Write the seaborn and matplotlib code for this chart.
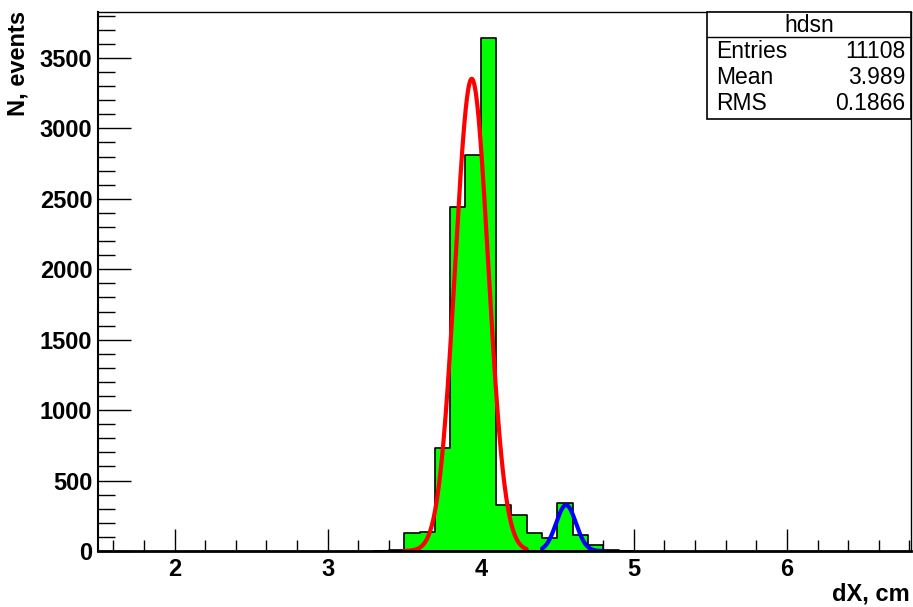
import numpy as np
import pandas as pd
import matplotlib
matplotlib.use("Agg")
import matplotlib.pyplot as plt
import seaborn as sns
from matplotlib.patches import Rectangle

# ---- data ----
bin_edges = [3.3, 3.4, 3.5, 3.6, 3.7, 3.8, 3.9, 4.0, 4.1, 4.2, 4.3, 4.4, 4.5, 4.6, 4.7, 4.8, 4.9, 5.0]
bin_counts = [2, 4, 125, 132, 733, 2444, 2808, 3643, 329, 256, 130, 90, 338, 113, 43, 7, 3]

# Gaussian fit parameters: amplitude, mean, sigma, range
red_fit = dict(amp=3352, mean=3.941, sigma=0.108, xmin=3.5, xmax=4.3)
blue_fit = dict(amp=326, mean=4.557, sigma=0.065, xmin=4.4, xmax=4.8)

stats_title = "hdsn"
stats_names = ["Entries", "Mean", "RMS"]
stats_values = ["11108", "3.989", "0.1866"]

x_ticks = [2, 3, 4, 5, 6]
y_ticks = [0, 500, 1000, 1500, 2000, 2500, 3000, 3500]

sns.set_theme(style="white")
plt.rcParams['font.family'] = ['Liberation Sans', 'DejaVu Sans']
plt.rcParams['text.color'] = 'black'
plt.rcParams['xtick.color'] = 'black'
plt.rcParams['ytick.color'] = 'black'

fig = plt.figure(figsize=(9.13, 6.07), dpi=100)
W, H = 913, 607
ax = fig.add_axes([98 / W, 1 - 551 / H, (911 - 98) / W, (551 - 12) / H])

centers = [(a + b) / 2 for a, b in zip(bin_edges[:-1], bin_edges[1:])]
df = pd.DataFrame({"x": centers, "w": bin_counts})
sns.histplot(data=df, x="x", weights="w", bins=list(bin_edges), element="step", fill=True,
             color="#00ff00", edgecolor="black", linewidth=1.2, alpha=1.0, ax=ax)

def gauss_df(p):
    xs = np.linspace(p["xmin"], p["xmax"], 300)
    ys = p["amp"] * np.exp(-0.5 * ((xs - p["mean"]) / p["sigma"]) ** 2)
    return pd.DataFrame({"x": xs, "y": ys})

sns.lineplot(data=gauss_df(red_fit), x="x", y="y", color="#ff0000", linewidth=3, ax=ax)
sns.lineplot(data=gauss_df(blue_fit), x="x", y="y", color="#0000ff", linewidth=3, ax=ax)

ax.set_xlim(1.5, 6.81)
ax.set_ylim(0, 3826)
ax.set_xticks(x_ticks)
ax.set_yticks(y_ticks)
ax.set_xticks(np.arange(1.6, 6.81, 0.2), minor=True)
ax.set_yticks(np.arange(0, 3826, 100), minor=True)
ax.set_xticklabels([str(t) for t in x_ticks], fontsize=17, fontweight="bold", color="black")
ax.set_yticklabels([str(t) for t in y_ticks], fontsize=17, fontweight="bold", color="black")
ax.tick_params(axis="x", which="major", direction="in", length=16, width=1, pad=5, color="black", bottom=True)
ax.tick_params(axis="x", which="minor", direction="in", length=8, width=1, color="black", bottom=True)
ax.tick_params(axis="y", which="major", direction="in", length=24, width=1, pad=4, color="black", left=True)
ax.tick_params(axis="y", which="minor", direction="in", length=12, width=1, color="black", left=True)
ax.set_xlabel("")
ax.set_ylabel("")
for s in ax.spines.values():
    s.set_color("black")
    s.set_linewidth(1.0)
ax.spines["bottom"].set_linewidth(2.0)
ax.spines["left"].set_linewidth(1.5)

fig.text(910 / W, 1 - 594 / H, "dX, cm", ha="right", va="center", fontsize=17, fontweight="bold", color="black")
fig.text(18 / W, 1 - 11 / H, "N, events", ha="center", va="top", rotation=90, fontsize=17, fontweight="bold", color="black")

# stats box
bx0, bx1, by0, by1 = 707, 911, 12, 119
fig.patches.append(Rectangle((bx0 / W, 1 - by1 / H), (bx1 - bx0) / W, (by1 - by0) / H,
                             transform=fig.transFigure, facecolor="white", edgecolor="black", linewidth=1.2, zorder=5))
fig.add_artist(plt.Line2D([bx0 / W, bx1 / W], [1 - 37 / H, 1 - 37 / H], transform=fig.transFigure, color="black", linewidth=1.0, zorder=6))
fig.text((bx0 + bx1) / 2 / W, 1 - 25 / H, stats_title, ha="center", va="center", fontsize=16.5, zorder=7, color="black")
rows_y = [51, 78, 104]
for name, val, yy in zip(stats_names, stats_values, rows_y):
    fig.text(716 / W, 1 - yy / H, name, ha="left", va="center", fontsize=16.5, zorder=7, color="black")
    fig.text(905 / W, 1 - yy / H, val, ha="right", va="center", fontsize=16.5, zorder=7, color="black")

fig.savefig("out.png", dpi=100)
